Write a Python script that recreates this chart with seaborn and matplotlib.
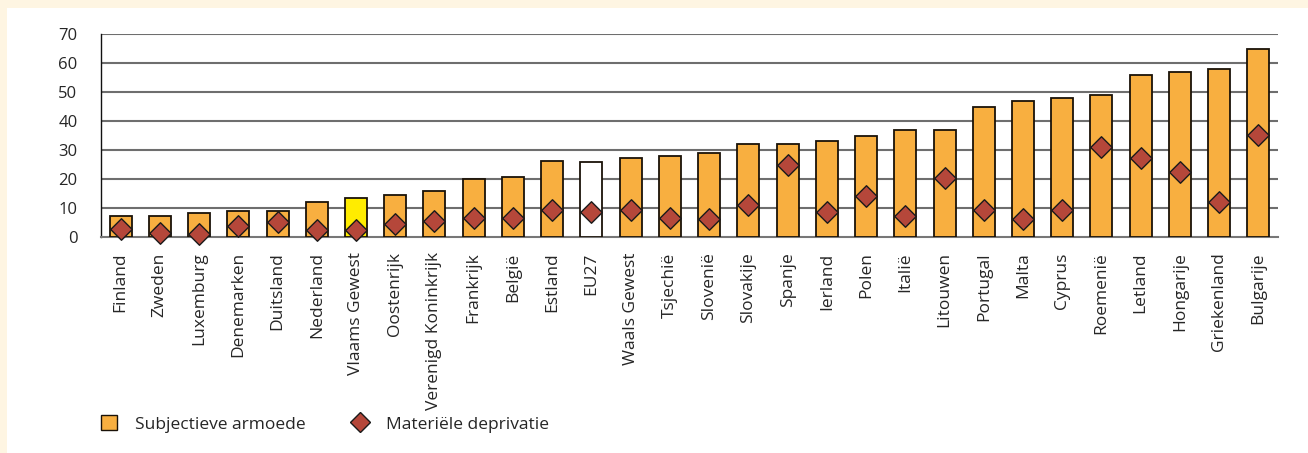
import matplotlib
matplotlib.use("Agg")
import matplotlib.pyplot as plt
import seaborn as sns
import pandas as pd
import numpy as np
from matplotlib.patches import Patch, Rectangle
from matplotlib.lines import Line2D

categories = ["Finland", "Zweden", "Luxemburg", "Denemarken", "Duitsland", "Nederland",
              "Vlaams Gewest", "Oostenrijk", "Verenigd Koninkrijk", "Frankrijk", "België",
              "Estland", "EU27", "Waals Gewest", "Tsjechië", "Slovenië", "Slovakije",
              "Spanje", "Ierland", "Polen", "Italië", "Litouwen", "Portugal", "Malta",
              "Cyprus", "Roemenië", "Letland", "Hongarije", "Griekenland", "Bulgarije"]
subjectieve = [7.2, 7.2, 8.4, 9, 9, 12, 13.6, 14.6, 16, 20, 20.8, 26.2, 26, 27.1, 28,
               28.9, 32, 32, 33, 35, 37, 37, 45, 47, 48, 49, 56, 57, 58, 65]
materiele = [2.8, 1.5, 1, 3.8, 5.3, 2.3, 2.3, 4.4, 5.6, 6.4, 6.4, 9.2, 8.5, 9.2, 6.4,
             6.2, 11.1, 25, 8.5, 14.1, 7.4, 20.2, 9.4, 6.3, 9.2, 31, 27.2, 22.3, 12.2, 35.1]
yticks = [0, 10, 20, 30, 40, 50, 60, 70]
legend_labels = ["Subjectieve armoede", "Materiële deprivatie"]

ORANGE = "#F8AF40"
YELLOW = "#FFEC00"
WHITE = "#FFFFFF"
DIAMOND = "#B5473A"
special = {"Vlaams Gewest": YELLOW, "EU27": WHITE}
palette = {c: special.get(c, ORANGE) for c in categories}

df = pd.DataFrame({"land": categories, "subj": subjectieve, "mat": materiele})

sns.set_style("white")
plt.rcParams["font.family"] = ["Open Sans", "DejaVu Sans"]

fig = plt.figure(figsize=(13.08, 4.53), dpi=100)
fig.patch.set_facecolor("#FEF5E2")
# white inner panel
fig.add_artist(Rectangle((7 / 1308, 0), 1 - 7 / 1308, 1 - 8 / 453,
                         transform=fig.transFigure, facecolor="white",
                         edgecolor="none", zorder=0))

ax = fig.add_axes([101 / 1308, 1 - 237 / 453, 1177 / 1308, 203 / 453])
ax.set_facecolor("none")

sns.barplot(data=df, x="land", y="subj", hue="land", palette=palette, legend=False,
            width=0.56, edgecolor="#1a1208", linewidth=1.3, saturation=1, ax=ax, zorder=3)
sns.scatterplot(data=df, x="land", y="mat", marker="D", s=120, color=DIAMOND,
                edgecolor="#1a1a1a", linewidth=1.0, ax=ax, zorder=4, legend=False)
for coll in ax.collections:
    coll.set_clip_on(False)

ax.set_xlim(-0.5, len(categories) - 0.5)
ax.set_ylim(0, 70)
ax.set_yticks(yticks)
ax.set_yticklabels([str(v) for v in yticks], fontsize=12)
ax.set_xticks(range(len(categories)))
ax.set_xticklabels(categories, rotation=90, fontsize=12.5)
ax.tick_params(axis="x", which="major", length=0, pad=11)
ax.tick_params(axis="y", which="major", length=0, pad=17)
ax.set_xticks(np.arange(-0.5, len(categories), 1.0), minor=True)
ax.tick_params(axis="x", which="minor", direction="in", length=10, width=1.2,
               color="#222222")
ax.set_xlabel("")
ax.set_ylabel("")

for v in yticks[1:]:
    ax.axhline(v, color="#6e6e6e", linewidth=1.5, zorder=1)

for s in ["top", "right"]:
    ax.spines[s].set_visible(False)
ax.spines["left"].set_color("#111111")
ax.spines["left"].set_linewidth(1.0)
ax.spines["bottom"].set_color("#777777")
ax.spines["bottom"].set_linewidth(1.5)

handles = [Patch(facecolor=ORANGE, edgecolor="#1a1208", linewidth=1.0),
           Line2D([], [], marker="D", linestyle="none", markersize=10.5,
                  markerfacecolor=DIAMOND, markeredgecolor="#1a1a1a")]
fig.legend(handles, legend_labels, loc="center left",
           bbox_to_anchor=(101 / 1308, 1 - 424 / 453), ncol=2, frameon=False,
           fontsize=12.5, handlelength=0.92, handleheight=0.92, handletextpad=1.05,
           columnspacing=2.65, borderaxespad=0, borderpad=0)

fig.savefig("out.png", dpi=100, facecolor=fig.get_facecolor())
